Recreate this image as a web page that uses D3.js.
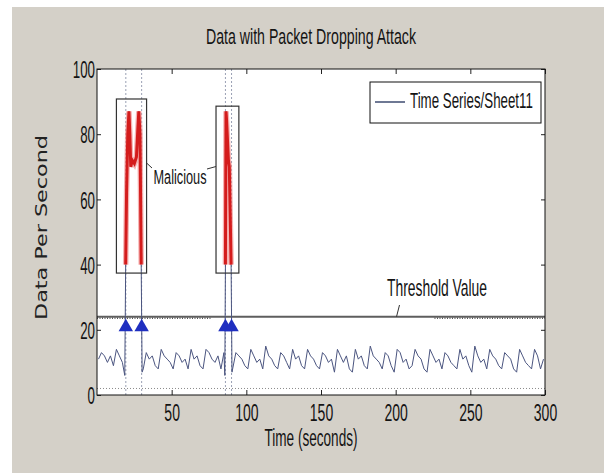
<!DOCTYPE html>
<html>
<head>
<meta charset="utf-8">
<script src="https://cdn.jsdelivr.net/npm/d3@7"></script>
<style>
  body { margin: 0; background: #fff; }
  svg { display: block; }
  .narrow { font-family: 'Liberation Sans Narrow', 'Liberation Sans', Arial, sans-serif; fill: #141414; }
</style>
</head>
<body>
<svg></svg>
<script>
// time series sampled every 2 s starting at t = 1
let baseStart = 1;
let baseStep = 2;
let baseValues = [
  11, 13, 12, 10, 12, 9, 14, 12, 10, 8,
  12, 11, 13, 10, 9, 8, 13, 11, 12, 9,
  8, 14, 12, 11, 10, 8, 13, 12, 10, 11,
  8, 14, 11, 12, 9, 8, 14, 13, 11, 10,
  12, 8, 13, 6, 10, 7, 13, 12, 11, 9,
  8, 14, 12, 10, 11, 8, 15, 12, 11, 9,
  8, 13, 12, 10, 8, 14, 11, 12, 9, 8,
  14, 12, 11, 9, 8, 13, 12, 10, 11, 7,
  14, 12, 10, 12, 8, 7, 14, 11, 12, 9,
  8, 15, 12, 11, 10, 8, 13, 12, 9, 7,
  14, 13, 10, 11, 8, 9, 14, 12, 11, 8,
  7, 14, 12, 10, 11, 8, 13, 12, 10, 9,
  8, 14, 11, 12, 9, 7, 15, 12, 10, 11,
  8, 14, 12, 11, 9, 8, 13, 12, 11, 8,
  7, 14, 12, 10, 9, 8, 14, 12, 8, 11
];

// packet dropping attack windows
let attackTimes1 = [18.6, 19.2, 19.8, 20.6, 21.4, 22.0, 22.6, 23.6, 25.0, 26.4, 27.4, 28.0, 28.8, 29.6, 30.2];
let attackValues1 = [6, 40, 62, 80, 87, 80, 70, 72, 71, 73, 82, 87, 80, 40, 7];
let attackTimes2 = [85.6, 86.0, 86.4, 86.8, 87.4, 88.0, 88.6, 89.2, 89.8, 90.4];
let attackValues2 = [6, 40, 87, 84, 78, 72, 70, 55, 40, 7];

let markerTimes = [19.3, 29.9, 86, 90.1];
let markerValue = 20.8;
let boxTimes = [[13, 33.2], [79.7, 95]];
let boxValues = [[37.4, 90.8], [37.4, 88.6]];
let thresholdValue = 24;
let floorValue = 2;

let xTicks = [50, 100, 150, 200, 250, 300];
let yTicks = [0, 20, 40, 60, 80, 100];

let width = 604;
let height = 473;

let svg = d3.select('svg')
            .attr('width', width)
            .attr('height', height);

svg.append('rect')
    .attr('x', 12)
    .attr('y', 7)
    .attr('width', width - 12)
    .attr('height', height - 7)
    .attr('fill', '#d4d0c8');

let xScale = d3.scaleLinear()
                .domain([0, 300])
                .range([97, 545]);

let yScale = d3.scaleLinear()
                .domain([0, 100])
                .range([395, 69]);

svg.append('rect')
    .attr('x', xScale(0))
    .attr('y', yScale(100))
    .attr('width', xScale(300) - xScale(0))
    .attr('height', yScale(0) - yScale(100))
    .attr('fill', '#fff');

// build the series, attack windows replace the regular samples
let attacks = [
  attackTimes1.map((t, i) => [t, attackValues1[i]]),
  attackTimes2.map((t, i) => [t, attackValues2[i]])
];
let basePoints = baseValues.map((v, i) => [baseStart + i * baseStep, v])
  .filter(d => !attacks.some(a => d[0] >= a[0][0] && d[0] <= a[a.length - 1][0] + 0.6));
let series = basePoints.concat(attacks[0], attacks[1]).sort((a, b) => a[0] - b[0]);

let line = d3.line()
              .x(d => xScale(d[0]))
              .y(d => yScale(d[1]));

// floor dotted line
svg.append('line')
    .attr('x1', xScale(0)).attr('x2', xScale(300))
    .attr('y1', yScale(floorValue)).attr('y2', yScale(floorValue))
    .attr('stroke', '#8a8a8a')
    .attr('stroke-dasharray', '1,2');

// dotted verticals at the attack edges
svg.selectAll('.vguide')
    .data(markerTimes)
    .enter()
    .append('line')
    .attr('x1', d => xScale(d)).attr('x2', d => xScale(d))
    .attr('y1', yScale(100)).attr('y2', yScale(0))
    .attr('stroke', '#9aa0b4')
    .attr('stroke-dasharray', '2,2');

// threshold
svg.append('line')
    .attr('x1', xScale(0)).attr('x2', xScale(300))
    .attr('y1', yScale(thresholdValue)).attr('y2', yScale(thresholdValue))
    .attr('stroke', '#5e5e5e')
    .attr('stroke-width', 2);

[[0, 76], [226, 300]].forEach(r => {
  svg.append('line')
      .attr('x1', xScale(r[0])).attr('x2', xScale(r[1]))
      .attr('y1', yScale(thresholdValue) + 1.5).attr('y2', yScale(thresholdValue) + 1.5)
      .attr('stroke', '#222')
      .attr('stroke-dasharray', '1,1.5');
});

svg.append('path')
    .datum(series)
    .attr('d', line)
    .attr('fill', 'none')
    .attr('stroke', '#4b5580')
    .attr('stroke-width', 1);

// malicious part in red
attacks.forEach(a => {
  let red = a.slice(1, a.length - 1);
  svg.append('path')
      .datum(red)
      .attr('d', line)
      .attr('fill', 'none')
      .attr('stroke', '#f08080')
      .attr('stroke-opacity', 0.6)
      .attr('stroke-width', 5.5);
  svg.append('path')
      .datum(red)
      .attr('d', line)
      .attr('fill', 'none')
      .attr('stroke', '#d41c1c')
      .attr('stroke-width', 3);
});

svg.selectAll('.box')
    .data(boxTimes)
    .enter()
    .append('rect')
    .attr('x', d => xScale(d[0]))
    .attr('width', d => xScale(d[1]) - xScale(d[0]))
    .attr('y', (d, i) => yScale(boxValues[i][1]))
    .attr('height', (d, i) => yScale(boxValues[i][0]) - yScale(boxValues[i][1]))
    .attr('fill', 'none')
    .attr('stroke', '#333')
    .attr('stroke-width', 1.2);

svg.selectAll('.marker')
    .data(markerTimes)
    .enter()
    .append('path')
    .attr('d', d3.symbol(d3.symbolTriangle, 90))
    .attr('transform', d => `translate(${xScale(d)},${yScale(markerValue)})`)
    .attr('fill', '#1f2fc0');

// axes, ticks point inward like matlab
let xAxis = d3.axisBottom(xScale).tickValues(xTicks).tickSize(-5).tickSizeOuter(0).tickPadding(8);
let xAxisTop = d3.axisTop(xScale).tickValues(xTicks).tickSize(-5).tickSizeOuter(0).tickFormat('');
let yAxis = d3.axisLeft(yScale).tickValues(yTicks).tickSize(-4).tickSizeOuter(0).tickPadding(2);
let yAxisRight = d3.axisRight(yScale).tickValues(yTicks).tickSize(-4).tickSizeOuter(0).tickFormat('');

let gx = svg.append('g')
    .attr('transform', `translate(0,${yScale(0)})`)
    .call(xAxis);
svg.append('g')
    .attr('transform', `translate(0,${yScale(100)})`)
    .call(xAxisTop);
let gy = svg.append('g')
    .attr('transform', `translate(${xScale(0)},0)`)
    .call(yAxis);
svg.append('g')
    .attr('transform', `translate(${xScale(300)},0)`)
    .call(yAxisRight);

svg.selectAll('.domain').remove();
svg.selectAll('.tick line').attr('stroke', '#222');

gx.selectAll('text')
    .attr('class', 'narrow')
    .attr('font-size', 24)
    .attr('dy', '0.75em')
    .attr('textLength', d => String(d).length * 7.8)
    .attr('lengthAdjust', 'spacingAndGlyphs');

gy.selectAll('text')
    .attr('class', 'narrow')
    .attr('font-size', 24)
    .attr('dy', '0.36em')
    .attr('textLength', d => String(d).length * 7.4)
    .attr('lengthAdjust', 'spacingAndGlyphs');

svg.append('rect')
    .attr('x', xScale(0))
    .attr('y', yScale(100))
    .attr('width', xScale(300) - xScale(0))
    .attr('height', yScale(0) - yScale(100))
    .attr('fill', 'none')
    .attr('stroke', '#111');

// annotations
svg.append('text')
    .attr('class', 'narrow')
    .attr('x', 180).attr('y', 184)
    .attr('text-anchor', 'middle')
    .attr('font-size', 19.5)
    .attr('textLength', 53)
    .attr('lengthAdjust', 'spacingAndGlyphs')
    .text('Malicious');

svg.append('path')
    .attr('d', `M${xScale(boxTimes[0][1])},163 L152,168 M207,169 L${xScale(boxTimes[1][0])},166.5`)
    .attr('fill', 'none')
    .attr('stroke', '#333');

svg.append('text')
    .attr('class', 'narrow')
    .attr('x', 437).attr('y', 296)
    .attr('text-anchor', 'middle')
    .attr('font-size', 24)
    .attr('textLength', 100)
    .attr('lengthAdjust', 'spacingAndGlyphs')
    .text('Threshold Value');

svg.append('line')
    .attr('x1', 399.5).attr('y1', 305)
    .attr('x2', 396.5).attr('y2', yScale(thresholdValue))
    .attr('stroke', '#333');

// legend
svg.append('rect')
    .attr('x', 370).attr('y', 82)
    .attr('width', 171).attr('height', 41)
    .attr('fill', '#fff')
    .attr('stroke', '#111');

svg.append('line')
    .attr('x1', 375).attr('x2', 405)
    .attr('y1', 102).attr('y2', 102)
    .attr('stroke', '#6e7894')
    .attr('stroke-width', 2);

// squeeze the legend label horizontally so it sits inside the box
let legendText = svg.append('text')
    .attr('class', 'narrow')
    .attr('font-size', 22)
    .text('Time Series/Sheet11');
let natural = legendText.node().getComputedTextLength();
legendText.attr('transform', `translate(410,108) scale(${Math.min(1, 123 / natural)},1)`);

// titles
svg.append('text')
    .attr('class', 'narrow')
    .attr('x', 311).attr('y', 44)
    .attr('text-anchor', 'middle')
    .attr('font-size', 22)
    .attr('textLength', 210)
    .attr('lengthAdjust', 'spacingAndGlyphs')
    .text('Data with Packet Dropping Attack');

svg.append('text')
    .attr('class', 'narrow')
    .attr('x', 311).attr('y', 446)
    .attr('text-anchor', 'middle')
    .attr('font-size', 23)
    .attr('textLength', 93)
    .attr('lengthAdjust', 'spacingAndGlyphs')
    .text('Time (seconds)');

svg.append('text')
    .attr('transform', 'translate(47,227.5) rotate(-90)')
    .attr('text-anchor', 'middle')
    .attr('font-family', 'DejaVu Sans, Verdana, sans-serif')
    .attr('font-size', 16)
    .attr('fill', '#222')
    .attr('textLength', 185)
    .attr('lengthAdjust', 'spacingAndGlyphs')
    .text('Data Per Second');
</script>
</body>
</html>
